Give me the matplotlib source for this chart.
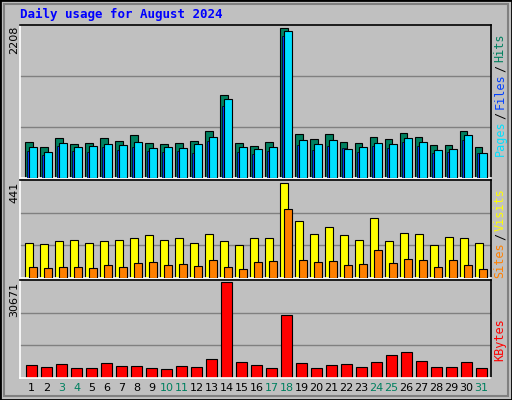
import matplotlib
matplotlib.use("Agg")
import matplotlib.pyplot as plt
from matplotlib.patches import Rectangle
import numpy as np

days = list(range(1, 32))
weekend = [3, 4, 10, 11, 17, 18, 24, 25, 31]
hits = [530, 455, 590, 500, 515, 590, 545, 635, 515, 500, 515, 545, 695, 1220, 515, 470, 530, 2208, 650, 575, 650, 530, 515, 605, 575, 665, 605, 485, 485, 695, 455]
files = [455, 380, 515, 455, 470, 500, 485, 530, 440, 455, 440, 500, 605, 1160, 455, 425, 455, 2165, 560, 500, 560, 425, 455, 515, 500, 590, 530, 410, 425, 635, 365]
pages = [395, 335, 470, 395, 380, 455, 410, 455, 395, 380, 395, 365, 545, 1055, 380, 350, 395, 2090, 485, 410, 470, 440, 380, 470, 440, 530, 470, 365, 380, 560, 365]
visits = [164, 159, 169, 178, 164, 173, 178, 183, 197, 178, 183, 164, 202, 169, 154, 183, 183, 441, 264, 202, 236, 197, 178, 279, 169, 207, 202, 154, 188, 183, 164]
sites = [49, 45, 49, 49, 45, 59, 49, 68, 73, 59, 64, 54, 83, 49, 40, 73, 78, 318, 83, 73, 78, 59, 64, 131, 68, 88, 83, 49, 83, 59, 40]
kbytes = [4140, 3470, 4480, 3130, 3130, 4810, 3810, 3810, 3130, 2800, 3810, 3470, 6160, 30671, 5150, 4140, 3130, 20260, 4810, 3130, 4140, 4480, 3470, 5150, 7500, 8500, 5490, 3470, 3470, 5150, 3130]

BG = "#C0C0C0"
mono = "DejaVu Sans Mono"
W, H = 512, 400
fig = plt.figure(figsize=(5.12, 4.0), dpi=100, facecolor=BG)
fig.patches.append(Rectangle((0, 0), 1, 1, transform=fig.transFigure, fill=False, ec="black", lw=2))
fig.patches.append(Rectangle((4/W, 4/H), 1-8/W, 1-8/H, transform=fig.transFigure, fill=False, ec="#808080", lw=1.5))

def mkax(top, bot):
    ax = fig.add_axes([20/W, 1-bot/H, 471/W, (bot-top)/H])
    ax.set_facecolor(BG)
    ax.set_xlim(0.28, 31.69)
    ax.set_xticks([]); ax.set_yticks([])
    for s in ax.spines.values():
        s.set_color("black"); s.set_linewidth(1.2)
    ax.spines["left"].set_color("white"); ax.spines["bottom"].set_color("white")
    return ax

x = np.array(days, dtype=float)
kw = dict(edgecolor="black", linewidth=0.8, align="edge")

ax1 = mkax(25, 178)
ymax1 = 2208 * 150 / 147
ax1.set_ylim(0, ymax1)
for g in (ymax1/3, 2*ymax1/3):
    ax1.axhline(g, color="#808080", lw=1, zorder=0)
ax1.bar(x-0.39, hits, 0.51, color="#00805F", **kw, zorder=2)
ax1.bar(x-0.26, pages, 0.3, color="#0040FF", edgecolor="black", linewidth=0.5, align="edge", zorder=3)
ax1.bar(x-0.12, files, 0.51, color="#00E0FF", **kw, zorder=4)

ax2 = mkax(180, 278)
ymax2 = 441 * 285 / 277
ax2.set_ylim(0, ymax2)
for g in (ymax2/3, 2*ymax2/3):
    ax2.axhline(g, color="#808080", lw=1, zorder=0)
ax2.bar(x-0.39, visits, 0.55, color="#FFFF00", **kw, zorder=2)
ax2.bar(x-0.12, sites, 0.51, color="#FF8000", **kw, zorder=3)

ax3 = mkax(280, 378)
ymax3 = 30671 * 281 / 274
ax3.set_ylim(0, ymax3)
for g in (ymax3/3, 2*ymax3/3):
    ax3.axhline(g, color="#808080", lw=1, zorder=0)
ax3.bar(x-0.32, kbytes, 0.71, color="#FF0000", **kw, zorder=2)
for d in days:
    ax3.text(d+0.05, -0.05, str(d), transform=ax3.get_xaxis_transform(), ha="center", va="top",
             fontsize=8, family="DejaVu Sans", color="#00805F" if d in weekend else "black")

fig.text(20/W, 1-14/H, "Daily usage for August 2024", color="#0000FF", fontsize=9,
         family=mono, weight="bold", va="center", ha="left")
for ytop, label in ((26, "2208"), (182, "441"), (282, "30671")):
    fig.text(14/W, 1-ytop/H, label, rotation=90, ha="center", va="top", fontsize=8, family="DejaVu Sans")

def rlabel(yc, parts):
    ch = 6.9
    total = sum(len(p) for p, _ in parts) + (len(parts) - 1) * 0.4
    y = yc - total*ch/2
    for p, c in parts:
        fig.text(500/W, (y + len(p)*ch/2)/H, p, rotation=90,
                 color=c, ha="center", va="center", fontsize=8.5, family=mono)
        y += (len(p) + 0.4)*ch

rlabel(H-95, [("Pages", "#00E0FF"), ("/", "#000000"), ("Files", "#0040FF"), ("/", "#000000"), ("Hits", "#00805F")])
rlabel(H-233, [("Sites", "#FF8000"), ("/", "#000000"), ("Visits", "#FFFF00")])
rlabel(H-340, [("KBytes", "#FF0000")])

fig.savefig("out.png", dpi=100, facecolor=BG)
